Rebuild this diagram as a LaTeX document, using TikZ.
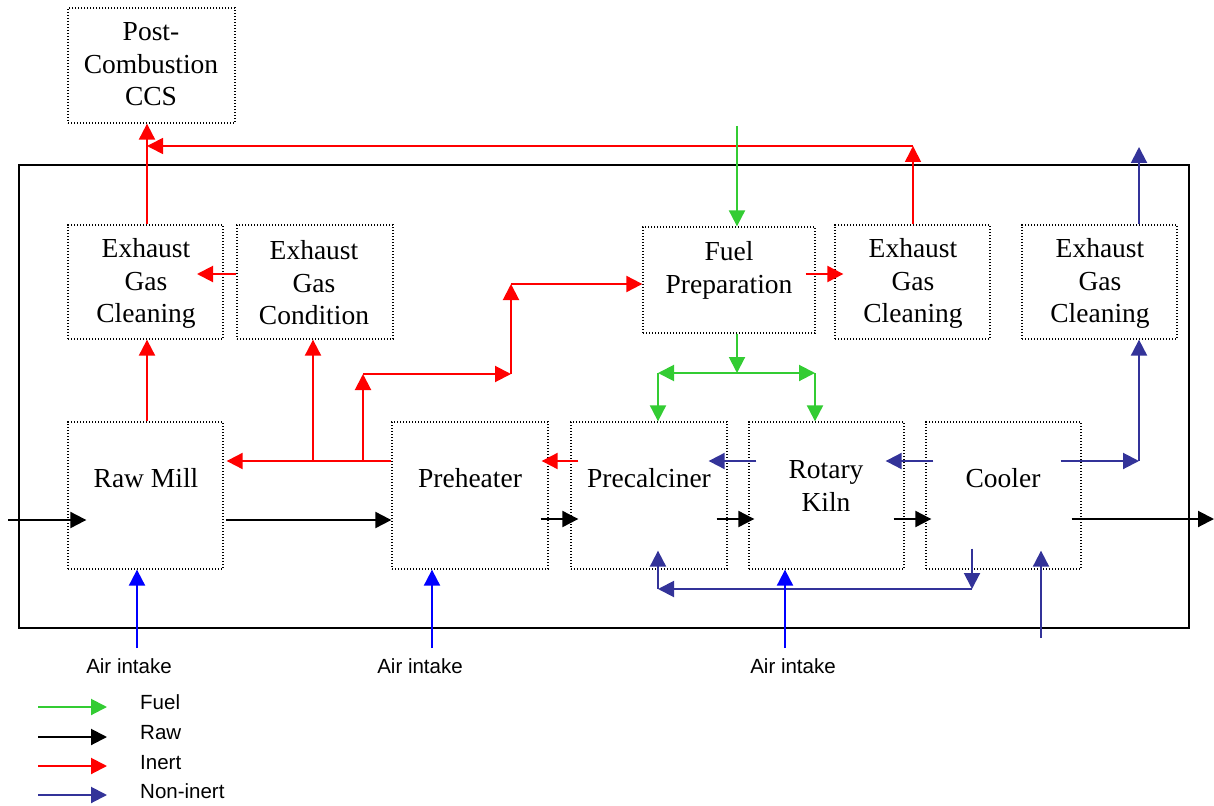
\documentclass[tikz,border=0pt]{standalone}
\usepackage{fontspec}
\setmainfont{Liberation Serif}
\newfontfamily\labelfont{Liberation Sans}
\usetikzlibrary{arrows.meta}
\definecolor{fuelgreen}{RGB}{51,204,51}
\definecolor{navy}{RGB}{51,51,153}
\definecolor{airblue}{RGB}{0,0,255}
\definecolor{inertred}{RGB}{255,0,0}

\tikzset{
  unitbox/.style={draw, line width=1.3pt, dash pattern=on 1.3pt off 1.7pt, inner sep=0pt},
  boxtext/.style={font=\fontsize{27.5}{32.5}\selectfont, align=center, inner sep=0pt},
  smalltext/.style={font=\labelfont\fontsize{20.5}{24}\selectfont, inner sep=0pt},
  flow/.style={line width=2pt, -{Triangle[length=16pt,width=16pt]}},
  fuel/.style={flow, fuelgreen},
  raw/.style={flow, black},
  inert/.style={flow, inertred},
  noninert/.style={flow, navy},
  air/.style={flow, airblue},
}

\begin{document}
\begin{tikzpicture}[x=1pt, y=-1pt]
\useasboundingbox (0,0) rectangle (1214,805);

% plant boundary
\draw[line width=2pt] (19,165) rectangle (1189,628);

% process units
\node[unitbox, minimum width=167, minimum height=115] (ccs) at (151.5,65.5) {};
\node[boxtext] (ccs-t) at (151,64.6) {Post-\\Combustion\\CCS};

\node[unitbox, minimum width=155, minimum height=114] (egc1) at (145.5,282) {};
\node[boxtext] (egc1-t) at (146,283.5) {Exhaust\\Gas\\Cleaning};

\node[unitbox, minimum width=156, minimum height=114] (egcond) at (315,282) {};
\node[boxtext] (egcond-t) at (314,283) {Exhaust\\Gas\\Condition};

\node[unitbox, minimum width=172, minimum height=106] (fuelprep) at (729,280) {};
\node[boxtext] (fuelprep-t) at (729,270.6) {Fuel\\Preparation};

\node[unitbox, minimum width=155, minimum height=114] (egc2) at (912.5,282) {};
\node[boxtext] (egc2-t) at (913,283.5) {Exhaust\\Gas\\Cleaning};

\node[unitbox, minimum width=155, minimum height=114] (egc3) at (1099.5,282) {};
\node[boxtext] (egc3-t) at (1100,283.5) {Exhaust\\Gas\\Cleaning};

\node[unitbox, minimum width=155, minimum height=147] (rawmill) at (145.5,495.5) {};
\node[boxtext, anchor=base] (rawmill-t) at (146,487) {Raw Mill};

\node[unitbox, minimum width=156, minimum height=147] (preheater) at (470,495.5) {};
\node[boxtext, anchor=base] (preheater-t) at (470,487) {Preheater};

\node[unitbox, minimum width=156, minimum height=147] (precalc) at (649,495.5) {};
\node[boxtext, anchor=base] (precalc-t) at (649,487) {Precalciner};

\node[unitbox, minimum width=155, minimum height=147] (kiln) at (826.5,495.5) {};
\node[boxtext] (kiln-t) at (826,486) {Rotary\\Kiln};

\node[unitbox, minimum width=155, minimum height=147] (cooler) at (1003.5,495.5) {};
\node[boxtext, anchor=base] (cooler-t) at (1003,487) {Cooler};

% junction and free-end points
\coordinate (raw-in) at (8,520);
\coordinate (raw-out) at (1214,519);
\coordinate (ccs-bus) at (147,146);
\coordinate (egc2-bus) at (913,146);
\coordinate (gas-split1) at (313,461);
\coordinate (gas-split2) at (363,461);
\coordinate (gas-up) at (363,374);
\coordinate (gas-turn) at (511,374);
\coordinate (gas-top) at (511,284);
\coordinate (fuel-in) at (737,126);
\coordinate (fuel-split) at (737,373);
\coordinate (fuel-left) at (658,373);
\coordinate (fuel-right) at (815,373);
\coordinate (cool-exit) at (1139,461);
\coordinate (stack) at (1139,147);
\coordinate (tert-corner) at (972,589);
\coordinate (tert-return) at (658,589);
\coordinate (cool-air) at (1041,638);
\coordinate (air1) at (137,648);
\coordinate (air2) at (432,648);
\coordinate (air3) at (785,648);

% raw material line
\draw[raw] (raw-in) -- ([xshift=19pt]rawmill.west |- raw-in);
\draw[raw] ([xshift=2pt]rawmill.east |- raw-in) -- (preheater.west |- raw-in);
\draw[raw] ([xshift=-8pt]preheater.east |- raw-out) -- ([xshift=8pt]precalc.west |- raw-out);
\draw[raw] ([xshift=-11pt]precalc.east |- raw-out) -- ([xshift=6pt]kiln.west |- raw-out);
\draw[raw] ([xshift=-11pt]kiln.east |- raw-out) -- ([xshift=6pt]cooler.west |- raw-out);
\draw[raw] ([xshift=-10pt]cooler.east |- raw-out) -- (raw-out);

% inert gas lines
\draw[inert] (egc1.north -| ccs-bus) -- (ccs.south -| ccs-bus);
\draw[inert, line width=1.6pt] (egc2.north -| egc2-bus) -- (egc2-bus);
\draw[inert, line width=1.6pt] (egc2-bus) -- (ccs-bus);
\draw[inert] (egcond.west |- 0,274) -- (197,274);
\draw[inert] (preheater.west |- gas-split1) -- ([xshift=3pt]rawmill.east |- gas-split1);
\draw[inert] (gas-split1) -- (egcond.south -| gas-split1);
\draw[inert] (gas-split2) -- (gas-up);
\draw[inert] (gas-up) -- (gas-turn);
\draw[inert] (gas-turn) -- (gas-top);
\draw[inert] (gas-top) -- (fuelprep.west |- gas-top);
\draw[inert] (rawmill.north -| ccs-bus) -- (egc1.south -| ccs-bus);
\draw[inert] ([xshift=-10pt]fuelprep.east |- 0,274) -- ([xshift=9pt]egc2.west |- 0,274);
\draw[inert] ([xshift=8pt]precalc.west |- gas-split1) -- ([xshift=-7pt]preheater.east |- gas-split1);

% fuel lines
\draw[fuel] (fuel-in) -- (fuelprep.north -| fuel-in);
\draw[fuel] (fuelprep.south -| fuel-split) -- (fuel-split);
\draw[fuel] (fuel-split) -- (fuel-left);
\draw[fuel] (fuel-split) -- (fuel-right);
\draw[fuel] (fuel-left) -- (precalc.north -| fuel-left);
\draw[fuel] (fuel-right) -- (kiln.north -| fuel-right);

% non-inert gas lines
\draw[noninert] ([xshift=8pt]kiln.west |- gas-split1) -- ([xshift=-19pt]precalc.east |- gas-split1);
\draw[noninert] ([xshift=8pt]cooler.west |- gas-split1) -- ([xshift=-19pt]kiln.east |- gas-split1);
\draw[noninert] ([xshift=-21pt]cooler.east |- cool-exit) -- (cool-exit);
\draw[noninert] (cool-exit) -- (egc3.south -| cool-exit);
\draw[noninert] (egc3.north -| stack) -- (stack);
\draw[noninert] ([yshift=21pt]cooler.south -| tert-corner) -- (tert-corner);
\draw[noninert] (tert-corner) -- (tert-return);
\draw[noninert] (tert-return) -- ([yshift=19pt]precalc.south -| tert-return);
\draw[noninert] (cool-air) -- ([yshift=19pt]cooler.south -| cool-air);

% combustion air intakes
\draw[air] (air1) -- (rawmill.south -| air1);
\draw[air] (air2) -- (preheater.south -| air2);
\draw[air] (air3) -- (kiln.south -| air3);
\node[smalltext, anchor=base] (air1-t) at (129,673) {Air intake};
\node[smalltext, anchor=base] (air2-t) at (420,673) {Air intake};
\node[smalltext, anchor=base] (air3-t) at (793,673) {Air intake};

% legend
\coordinate (lg1a) at (38,707); \coordinate (lg1b) at (107,707);
\coordinate (lg2a) at (38,737); \coordinate (lg2b) at (107,737);
\coordinate (lg3a) at (38,766); \coordinate (lg3b) at (107,766);
\coordinate (lg4a) at (38,795); \coordinate (lg4b) at (107,795);
\draw[fuel] (lg1a) -- (lg1b);
\draw[raw] (lg2a) -- (lg2b);
\draw[inert] (lg3a) -- (lg3b);
\draw[noninert] (lg4a) -- (lg4b);
\node[smalltext, anchor=base west] (lg1-t) at (140,709) {Fuel};
\node[smalltext, anchor=base west] (lg2-t) at (140,739) {Raw};
\node[smalltext, anchor=base west] (lg3-t) at (140,769) {Inert};
\node[smalltext, anchor=base west] (lg4-t) at (140,798) {Non-inert};
\end{tikzpicture}
\end{document}
